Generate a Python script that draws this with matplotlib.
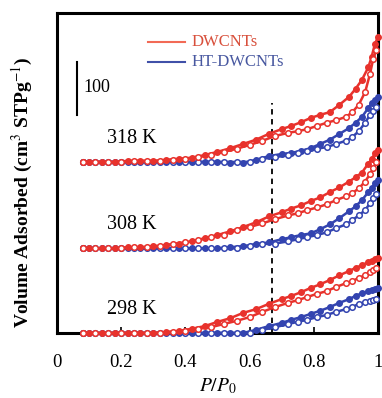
import matplotlib.pyplot as plt
import numpy as np

# relative pressure grids (filled = adsorption, open = desorption)
x_ads = [0.08, 0.10, 0.14, 0.18, 0.22, 0.26, 0.30, 0.34, 0.38, 0.42, 0.46, 0.50, 0.54, 0.58, 0.62,
         0.66, 0.70, 0.73, 0.76, 0.79, 0.82, 0.85, 0.88, 0.91, 0.93, 0.95, 0.97, 0.98, 0.99, 1.0]
x_des = [0.08, 0.12, 0.16, 0.20, 0.24, 0.28, 0.32, 0.36, 0.40, 0.44, 0.48, 0.52, 0.56, 0.60, 0.64,
         0.68, 0.72, 0.75, 0.78, 0.81, 0.84, 0.87, 0.90, 0.92, 0.94, 0.96, 0.975, 0.985, 0.995]

temps = ['298 K', '308 K', '318 K']
offsets = [0, 160, 323]

# volume adsorbed (cm3 STP/g), relative to each isotherm's baseline
dw_ads = [
    [0, 0, 0, 0, 0, 0, 0, 2, 4, 8, 13, 21, 28, 38, 45, 55, 64, 70, 77, 85, 92, 100, 109, 117, 123, 128, 134, 136, 140, 142],
    [0, 0, 0, 0, 2, 2, 4, 6, 9, 13, 19, 25, 32, 40, 49, 60, 68, 75, 81, 89, 96, 106, 115, 126, 134, 143, 160, 168, 179, 185],
    [0, 0, 0, 0, 2, 2, 2, 4, 6, 8, 13, 19, 26, 34, 42, 53, 62, 68, 75, 83, 89, 94, 108, 123, 138, 155, 179, 198, 222, 236],
]
dw_des = [
    [0, 0, 0, 0, 0, 0, 0, 2, 4, 8, 11, 17, 23, 30, 40, 49, 57, 62, 68, 74, 79, 87, 94, 98, 104, 109, 115, 119, 123],
    [0, 0, 0, 0, 2, 2, 4, 8, 11, 15, 21, 26, 34, 40, 47, 55, 62, 66, 72, 77, 83, 91, 98, 104, 113, 126, 140, 151, 162],
    [0, 0, 0, 0, 2, 2, 2, 4, 6, 9, 13, 19, 25, 32, 40, 49, 55, 58, 62, 68, 74, 79, 85, 94, 108, 132, 166, 194, 211],
]
ht_ads = [
    [0, 0, 0, 0, 0, 0, 0, 0, 0, 0, 0, 0, 0, 0, 6, 13, 19, 25, 30, 36, 42, 49, 57, 64, 70, 75, 79, 81, 83, 85],
    [0, 0, 0, 0, 0, 0, 0, 0, 0, 0, 0, 0, 2, 4, 8, 11, 17, 21, 25, 28, 36, 45, 57, 70, 79, 91, 106, 113, 123, 128],
    [0, 0, 0, 0, 0, 0, 0, 0, 0, 0, 0, 0, -2, -2, 4, 11, 15, 17, 21, 26, 34, 42, 53, 64, 74, 85, 102, 111, 117, 123],
]
ht_des = [
    [0, 0, 0, 0, 0, 0, 0, 0, 0, 0, 0, 0, 0, 0, 6, 11, 17, 21, 25, 30, 34, 40, 45, 49, 55, 58, 60, 62, 64],
    [0, 0, 0, 0, 0, 0, 0, 0, 0, 0, 0, 0, 0, 4, 8, 9, 13, 17, 21, 25, 30, 38, 45, 53, 62, 72, 85, 94, 102],
    [0, 0, 0, 0, 0, 0, 0, 0, 0, 0, 0, 0, 0, 0, 6, 9, 13, 17, 21, 25, 28, 34, 40, 47, 58, 74, 89, 96, 104],
]

red = '#e8322c'
blue = '#3344b0'

plt.rcParams['font.family'] = ['Liberation Serif', 'DejaVu Serif']
plt.rcParams['mathtext.fontset'] = 'stix'

fig = plt.figure(figsize=(3.82, 3.98), dpi=100)
ax = fig.add_axes([0.149, 0.1633, 0.8405, 0.8037])

for i in range(3):
    off = offsets[i]
    ax.plot(x_ads, np.array(ht_ads[i]) + off, '-o', color=blue, lw=1.8, ms=4, clip_on=False, zorder=3)
    ax.plot(x_des, np.array(ht_des[i]) + off, '-o', color=blue, mfc='white', mec=blue, mew=1.1,
            lw=1.8, ms=4, clip_on=False, zorder=3)
    ax.plot(x_ads, np.array(dw_ads[i]) + off, '-o', color=red, lw=1.8, ms=4, clip_on=False, zorder=4)
    ax.plot(x_des, np.array(dw_des[i]) + off, '-o', color=red, mfc='white', mec=red, mew=1.1,
            lw=1.8, ms=4, clip_on=False, zorder=4)
    ax.text(0.155, off + 45, temps[i], fontsize=14.5, ha='left', va='center')

ax.plot([0.67, 0.67], [0, 434], color='black', ls=(0, (3, 2.5)), lw=1.3, zorder=2)

# scale bar: 100 cm3/g
ax.plot([0.063, 0.063], [412, 512], color='black', lw=1.5)
ax.text(0.082, 463, '100', fontsize=13, ha='left', va='center')

# legend
ax.plot([0.285, 0.40], [550, 550], color='#f26a55', lw=1.5)
ax.plot([0.285, 0.40], [512, 512], color='#4050a8', lw=1.5)
ax.text(0.42, 550, 'DWCNTs', fontsize=12, color='#d8503c', ha='left', va='center')
ax.text(0.42, 512, 'HT-DWCNTs', fontsize=12, color='#4858a0', ha='left', va='center')

ax.set_xlim(0, 1)
ax.set_ylim(0, 604)
ax.set_xticks([0, 0.2, 0.4, 0.6, 0.8, 1.0])
ax.set_xticklabels(['0', '0.2', '0.4', '0.6', '0.8', '1'], fontsize=13.5)
ax.set_yticks([])
ax.tick_params(axis='x', direction='in', length=4, width=1.2, pad=15)
for s in ax.spines.values():
    s.set_linewidth(2.2)

ax.set_xlabel('$P/P_0$', fontsize=14, labelpad=4)
fig.text(0.06, 0.517, 'Volume Adsorbed (cm$^3$ STPg$^{-1}$)', rotation=90, fontsize=14,
         fontweight='bold', ha='center', va='center')

fig.savefig('out.png', dpi=100)
